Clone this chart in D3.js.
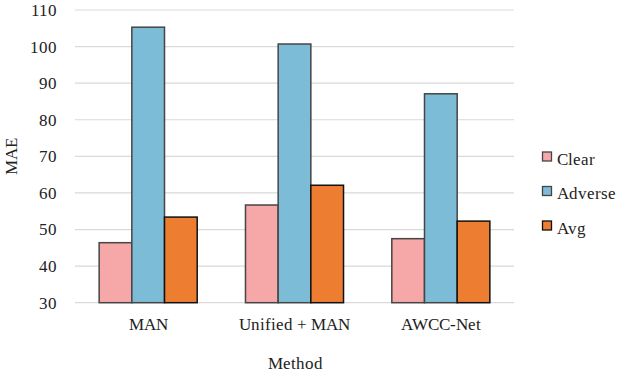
<!DOCTYPE html>
<html><head><meta charset="utf-8">
<script src="https://cdn.jsdelivr.net/npm/d3@7"></script>
<style>
@font-face{font-family:"ChartFace";src:local("Liberation Serif"),local("LiberationSerif"),local("Liberation Serif Regular"),local("Tinos");}
body{margin:0;background:#fff}
svg{display:block}
</style>
</head><body>
<svg id="c" width="628" height="372"></svg>
<script>
const categories = ["MAN", "Unified + MAN", "AWCC-Net"];
const seriesNames = ["Clear", "Adverse", "Avg"];
const clearVals = [46.4, 56.7, 47.5];
const adverseVals = [105.3, 100.7, 87.1];
const avgVals = [53.4, 62.1, 52.3];
const yTicks = [30, 40, 50, 60, 70, 80, 90, 100, 110];
const colors = ["#F6A8A9", "#7DBCD6", "#ED7D31"];
const strokes = ["#454545", "#454545", "#111"];

const FONT = 'ChartFace, Tinos, "Liberation Serif", serif';
const series = [clearVals, adverseVals, avgVals];
const svg = d3.select("#c");
const L = 75, R = 514, T = 10, B = 302.7;
const y = d3.scaleLinear().domain([30, 110]).range([B, T]);
const x0 = d3.scaleBand().domain(categories).range([L, R]).paddingInner(0.33).paddingOuter(0.165);
const x1 = d3.scaleBand().domain(seriesNames).range([0, x0.bandwidth()]);

function styleText(sel) {
  return sel.style("font-family", FONT).style("font-size", "17px").style("fill", "#222");
}

svg.append("g").selectAll("line").data(yTicks).join("line")
  .attr("x1", L).attr("x2", R)
  .attr("y1", d => y(d)).attr("y2", d => y(d))
  .attr("stroke", "#d9d9d9").attr("stroke-width", 1.2);

const yAxis = d3.axisLeft(y).tickValues(yTicks).tickSize(0).tickPadding(0);
const ya = svg.append("g").attr("transform", `translate(${L - 18},0)`).call(yAxis);
ya.select(".domain").remove();
styleText(ya.selectAll("text"));

const g = svg.append("g");
categories.forEach((c, ci) => {
  seriesNames.forEach((s, si) => {
    g.append("rect")
      .attr("x", x0(c) + x1(s))
      .attr("y", y(series[si][ci]))
      .attr("width", x1.bandwidth())
      .attr("height", y(30) - y(series[si][ci]))
      .attr("fill", colors[si])
      .attr("stroke", strokes[si]).attr("stroke-width", 1.5);
  });
});

const xAxis = d3.axisBottom(x0).tickSize(0).tickPadding(0);
const xa = svg.append("g").attr("transform", `translate(0,${B + 15})`).call(xAxis);
xa.select(".domain").remove();
styleText(xa.selectAll("text"));

styleText(svg.append("text").attr("x", 295).attr("y", 369).attr("text-anchor", "middle").text("Method"));
styleText(svg.append("text").attr("transform", "translate(17,156) rotate(-90)").attr("text-anchor", "middle").text("MAE"));

const lg = svg.append("g");
seriesNames.forEach((s, i) => {
  const yy = 152 + i * 34.5;
  lg.append("rect").attr("x", 542.5).attr("y", yy).attr("width", 9).attr("height", 9)
    .attr("fill", colors[i]).attr("stroke", strokes[i]).attr("stroke-width", 1.3);
  styleText(lg.append("text").attr("x", 557).attr("y", yy + 12.5).text(s));
});
</script></body></html>
